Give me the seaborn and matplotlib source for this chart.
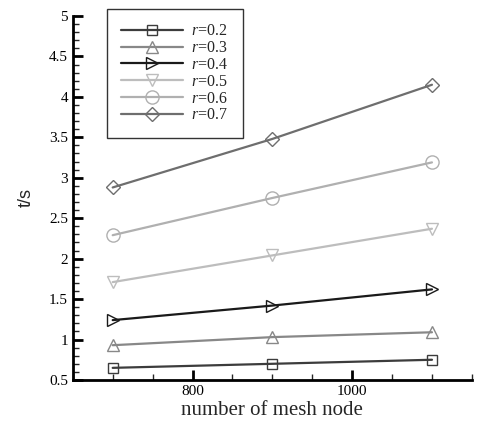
import numpy as np
import pandas as pd
import matplotlib
matplotlib.use("Agg")
import matplotlib.pyplot as plt
from matplotlib.ticker import MultipleLocator
import seaborn as sns

# data
mesh_nodes = [700, 900, 1100]
r_labels = ["0.2", "0.3", "0.4", "0.5", "0.6", "0.7"]
t_r02 = [0.65, 0.70, 0.75]
t_r03 = [0.93, 1.03, 1.09]
t_r04 = [1.24, 1.42, 1.62]
t_r05 = [1.71, 2.04, 2.37]
t_r06 = [2.29, 2.75, 3.19]
t_r07 = [2.88, 3.48, 4.15]

series = [t_r02, t_r03, t_r04, t_r05, t_r06, t_r07]
colors = ["#3c3c3c", "#888888", "#1a1a1a", "#bdbdbd", "#b0b0b0", "#6e6e6e"]
markers = ["s", "^", ">", "v", "o", "D"]
msizes = [7.5, 8.5, 8.5, 8.5, 9.5, 7.5]

sns.set_style("ticks")
plt.rcParams["font.family"] = ["Liberation Serif", "DejaVu Serif"]
plt.rcParams["mathtext.fontset"] = "custom"
plt.rcParams["mathtext.it"] = "Liberation Serif:italic"
plt.rcParams["mathtext.rm"] = "Liberation Serif"

fig = plt.figure(figsize=(4.82, 4.23), dpi=100)
ax = fig.add_axes([0.151, 0.1017, 0.828, 0.8605])

for lab, vals, c, m, ms in zip(r_labels, series, colors, markers, msizes):
    df = pd.DataFrame({"n": mesh_nodes, "t": vals})
    sns.lineplot(data=df, x="n", y="t", ax=ax, color=c, marker=m,
                 markersize=ms, markerfacecolor="none", markeredgecolor=c,
                 markeredgewidth=1.0, linewidth=1.6,
                 label="$r$=" + lab)

ax.set_xlim(650, 1150)
ax.set_ylim(0.5, 5)
ax.xaxis.set_major_locator(MultipleLocator(200))
ax.xaxis.set_minor_locator(MultipleLocator(50))
ax.yaxis.set_major_locator(MultipleLocator(0.5))
ax.yaxis.set_minor_locator(MultipleLocator(0.1))
ax.yaxis.set_major_formatter(plt.FuncFormatter(lambda v, p: f"{v:g}"))
ax.tick_params(which="major", direction="in", length=7, width=2, labelsize=11,
               colors="black")
ax.tick_params(which="minor", direction="in", length=4, width=1)
for s in ["top", "right"]:
    ax.spines[s].set_visible(False)
for s in ["left", "bottom"]:
    ax.spines[s].set_linewidth(2)
    ax.spines[s].set_color("black")

ax.set_xlabel("number of mesh node", fontsize=15, labelpad=2)
ax.set_ylabel("t/s", fontsize=13, family=["Liberation Sans", "DejaVu Sans"],
              labelpad=10)

leg = ax.legend(loc="upper left", bbox_to_anchor=(0.085, 1.019), fontsize=11.5,
                handlelength=3.9, labelspacing=0.05, fancybox=False,
                framealpha=1, edgecolor="#333333", borderpad=0.9,
                handletextpad=0.5, borderaxespad=0)
leg.get_frame().set_linewidth(1.0)

fig.savefig("out.png", dpi=100)
